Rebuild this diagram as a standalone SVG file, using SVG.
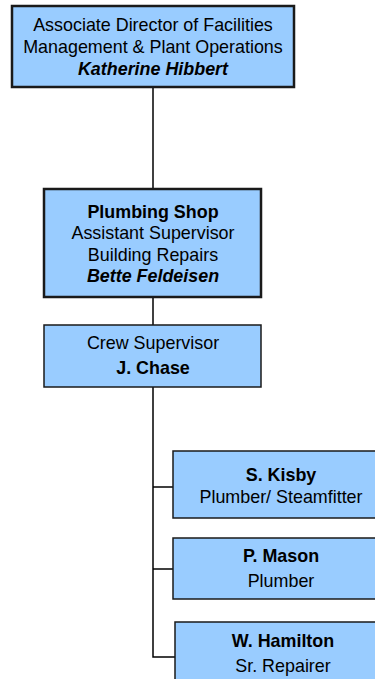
<svg xmlns="http://www.w3.org/2000/svg" width="375" height="679" viewBox="0 0 375 679">
<style>
.box{fill:#99CCFF;stroke:#1a1a1a;stroke-width:1.5}
.thick{stroke-width:2.5}
.t{font-family:"Liberation Sans",Arial,sans-serif;font-size:17.9px;fill:#000;text-anchor:middle}
.b{font-weight:bold}
.bi{font-weight:bold;font-style:italic}
.ln{stroke:#000;stroke-width:1.5;fill:none}
</style>
<rect width="375" height="679" fill="#fff"/>
<g id="connectors">
<line class="ln" x1="153" y1="87" x2="153" y2="189"/>
<line class="ln" x1="153" y1="297" x2="153" y2="325"/>
<polyline class="ln" points="153,387 153,657 175,657"/>
<line class="ln" x1="153" y1="487" x2="173" y2="487"/>
<line class="ln" x1="153" y1="569" x2="173" y2="569"/>
</g>
<g id="director">
<rect class="box thick" x="12" y="6" width="282" height="81"/>
<text class="t" x="153" y="31">Associate Director of Facilities</text>
<text class="t" x="153" y="53">Management &amp; Plant Operations</text>
<text class="t bi" x="153" y="75">Katherine Hibbert</text>
</g>
<g id="plumbing">
<rect class="box thick" x="44" y="189" width="217" height="108"/>
<text class="t b" x="153" y="218">Plumbing Shop</text>
<text class="t" x="153" y="239">Assistant Supervisor</text>
<text class="t" x="153" y="261">Building Repairs</text>
<text class="t bi" x="153" y="282">Bette Feldeisen</text>
</g>
<g id="crew">
<rect class="box" x="44" y="325" width="217" height="62"/>
<text class="t" x="153" y="349">Crew Supervisor</text>
<text class="t b" x="153" y="374">J. Chase</text>
</g>
<g id="kisby">
<rect class="box" x="173" y="451" width="217" height="67"/>
<text class="t b" x="281" y="481">S. Kisby</text>
<text class="t" x="281" y="503">Plumber/ Steamfitter</text>
</g>
<g id="mason">
<rect class="box" x="173" y="538" width="217" height="61"/>
<text class="t b" x="281" y="562">P. Mason</text>
<text class="t" x="281" y="587">Plumber</text>
</g>
<g id="hamilton">
<rect class="box" x="175" y="622" width="217" height="70"/>
<text class="t b" x="283" y="647">W. Hamilton</text>
<text class="t" x="283" y="672">Sr. Repairer</text>
</g>
</svg>
